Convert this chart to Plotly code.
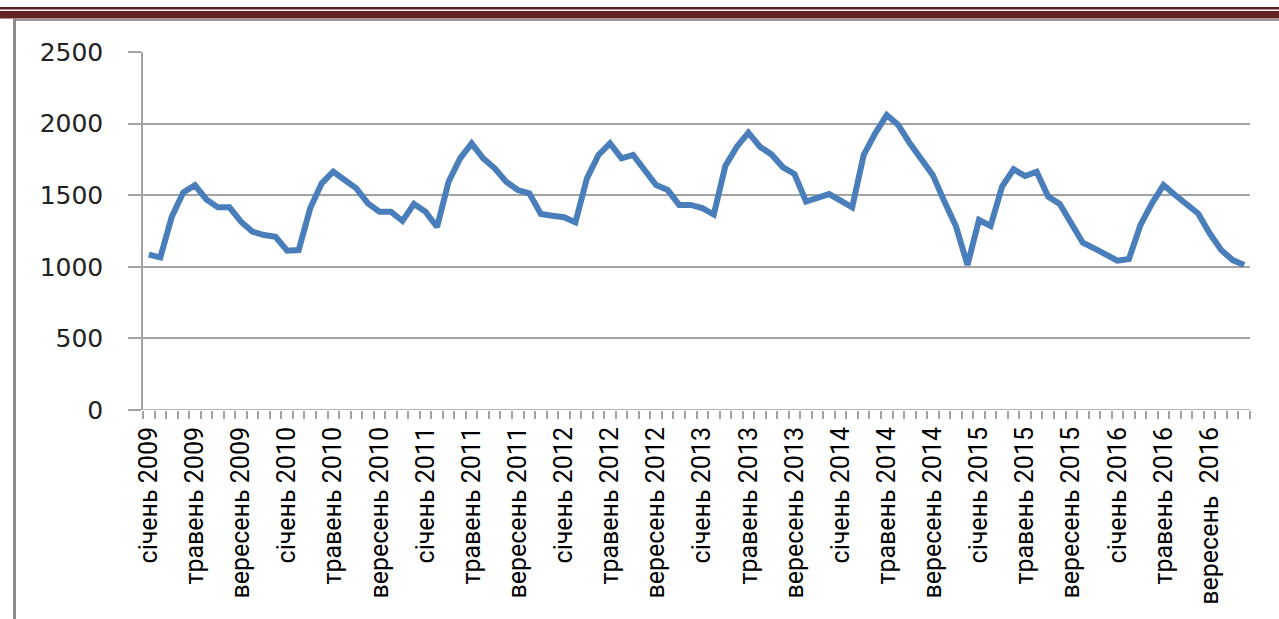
import plotly.graph_objects as go

# Monthly values, January 2009 – December 2016
years = [2009, 2010, 2011, 2012, 2013, 2014, 2015, 2016]
month_names = {0: "січень", 4: "травень", 8: "вересень"}

values_2009 = [1085, 1065, 1350, 1520, 1570, 1470, 1415, 1415, 1315, 1245, 1222, 1210]
values_2010 = [1112, 1117, 1408, 1583, 1664, 1606, 1548, 1443, 1385, 1385, 1320, 1439]
values_2011 = [1385, 1278, 1594, 1757, 1862, 1757, 1688, 1594, 1536, 1513, 1369, 1357]
values_2012 = [1346, 1311, 1618, 1781, 1862, 1757, 1781, 1676, 1571, 1536, 1432, 1432]
values_2013 = [1410, 1365, 1704, 1839, 1937, 1839, 1785, 1695, 1648, 1455, 1478, 1508]
values_2014 = [1462, 1415, 1781, 1932, 2060, 1990, 1862, 1745, 1640, 1455, 1283, 1013]
values_2015 = [1327, 1285, 1560, 1681, 1634, 1664, 1490, 1439, 1304, 1168, 1129, 1082]
values_2016 = [1043, 1054, 1292, 1443, 1571, 1501, 1432, 1373, 1234, 1117, 1047, 1013]

y_ticks = [0, 500, 1000, 1500, 2000, 2500]

series = (values_2009 + values_2010 + values_2011 + values_2012
          + values_2013 + values_2014 + values_2015 + values_2016)
x_idx = list(range(len(series)))

tick_pos, tick_text = [], []
for yi, yr in enumerate(years):
    for m, name in month_names.items():
        tick_pos.append(yi * 12 + m)
        sep = " \u00a0" if (yr == 2016 and m == 8) else " "
        tick_text.append(f"{name}{sep}{yr}")

GRID = "#a3a3a3"

fig = go.Figure()
fig.add_trace(go.Scatter(
    x=x_idx, y=series, mode="lines",
    line=dict(color="#4a7ebb", width=6),
    hoverinfo="skip", showlegend=False,
))

W, H = 1279, 619
L, R, T, B = 143, 29, 52, 209
pw, ph = W - L - R, H - T - B


def px(x):
    return (x - L) / pw


def py(y):
    return 1 - (y - T) / ph


# page frame: dark red rule at the top and grey border on the left
shapes = [
    dict(type="rect", xref="paper", yref="paper", x0=px(0), x1=px(W), y0=py(9.5), y1=py(7),
         fillcolor="#5e1f1f", line_width=0, layer="above"),
    dict(type="rect", xref="paper", yref="paper", x0=px(0), x1=px(W), y0=py(18.5), y1=py(11),
         fillcolor="#652222", line_width=0, layer="above"),
    dict(type="rect", xref="paper", yref="paper", x0=px(13), x1=px(W), y0=py(21), y1=py(18.5),
         fillcolor="#9a9a9a", line_width=0, layer="above"),
    dict(type="rect", xref="paper", yref="paper", x0=px(13), x1=px(16), y0=py(H + 5), y1=py(18.5),
         fillcolor="#8c8c8c", line_width=0, layer="above"),
]

fig.update_layout(
    width=W, height=H,
    margin=dict(l=L, r=R, t=T, b=B, pad=0),
    paper_bgcolor="white", plot_bgcolor="white",
    shapes=shapes,
    xaxis=dict(
        range=[-0.5, len(series) - 0.5],
        tickmode="array", tickvals=tick_pos, ticktext=tick_text,
        tickangle=-90, ticks="", showgrid=False, zeroline=False,
        showline=False,
        tickfont=dict(family="Liberation Sans Narrow, Roboto, sans-serif", size=25, color="#000000"),
        ticklabelstandoff=11,
        minor=dict(tick0=-0.5, dtick=1, ticks="outside", ticklen=8, tickwidth=1.5,
                   tickcolor=GRID, showgrid=False),
    ),
    yaxis=dict(
        range=[0, 2500], tickvals=y_ticks,
        ticks="outside", ticklen=13, tickwidth=1.5, tickcolor=GRID,
        showgrid=True, gridcolor=GRID, gridwidth=1.5,
        zeroline=False, showline=True, linecolor=GRID, linewidth=1.5,
        tickfont=dict(family="DejaVu Sans, Verdana, sans-serif", size=25, color="#222222"),
        ticklabelstandoff=20,
    ),
)

# x baseline drawn as a line along y = 0
fig.add_shape(type="line", xref="paper", yref="y", x0=0, x1=1, y0=0, y1=0,
              line=dict(color=GRID, width=1.5), layer="below")

fig.write_html("out.html")
